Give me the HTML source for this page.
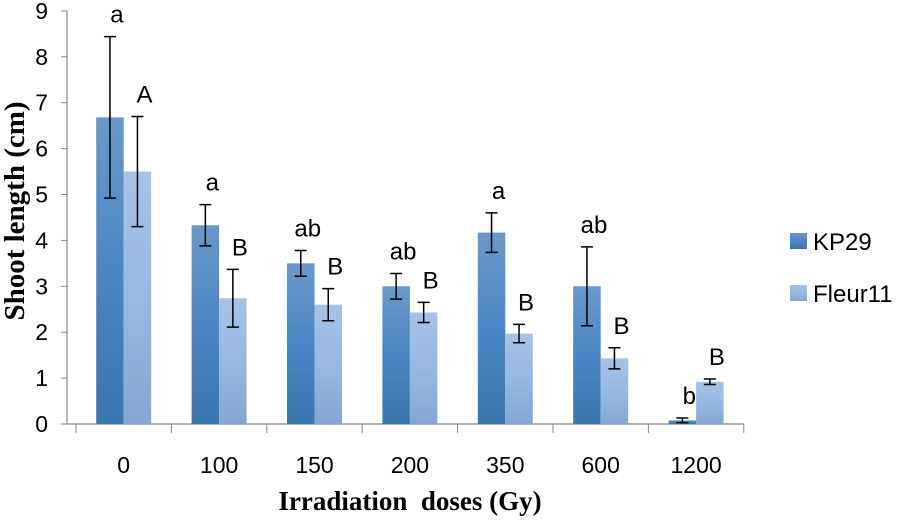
<!DOCTYPE html>
<html><head><meta charset="utf-8"><style>
body{margin:0;background:#fff;}
svg text{font-family:"Liberation Sans",sans-serif;}
</style></head><body>
<svg width="900" height="519" viewBox="0 0 900 519">
<defs>
<linearGradient id="gk" x1="0" y1="0" x2="0" y2="1"><stop offset="0" stop-color="#6a98c9"/><stop offset="0.5" stop-color="#4a87c4"/><stop offset="1" stop-color="#3a76b0"/></linearGradient>
<linearGradient id="gf" x1="0" y1="0" x2="0" y2="1"><stop offset="0" stop-color="#a6c3e8"/><stop offset="0.5" stop-color="#97b8e3"/><stop offset="1" stop-color="#85a6d2"/></linearGradient>
</defs>
<g id="plot"></g>
<rect x="790" y="233" width="17" height="16" fill="url(#gk)"/>
<text x="813" y="250" font-size="24">KP29</text>
<rect x="790" y="285" width="17" height="16" fill="url(#gf)"/>
<text x="813" y="302" font-size="24">Fleur11</text>
<text x="410" y="510" font-size="27" font-weight="bold" text-anchor="middle" style="font-family:'Liberation Serif',serif" xml:space="preserve">Irradiation  doses (Gy)</text>
<text transform="translate(24,211) rotate(-90)" font-size="29" font-weight="bold" text-anchor="middle" style="font-family:'Liberation Serif',serif">Shoot length (cm)</text>
</svg>
<script>
const categories=["0","100","150","200","350","600","1200"];
const kpValues=[6.68,4.33,3.5,3.0,4.17,3.0,0.08];
const kpErrors=[1.76,0.45,0.28,0.28,0.43,0.86,0.05];
const kpLetters=["a","a","ab","ab","a","ab","b"];
const flValues=[5.5,2.74,2.6,2.43,1.97,1.43,0.92];
const flErrors=[1.2,0.63,0.35,0.22,0.2,0.23,0.06];
const flLetters=["A","B","B","B","B","B","B"];
const yTicks=[0,1,2,3,4,5,6,7,8,9];
const NS="http://www.w3.org/2000/svg";
const g=document.getElementById('plot');
const x0=76,gw=95.4,y0=424,ypu=45.9,bw=27.5;
const Y=v=>y0-v*ypu;
function mk(t,a){const e=document.createElementNS(NS,t);for(const k in a)e.setAttribute(k,a[k]);g.appendChild(e);return e;}
let ax=mk('line',{x1:67,y1:Y(9),x2:67,y2:y0,stroke:'#888','stroke-width':1.2});


yTicks.forEach(t=>{
 let l=mk('line',{x1:61,x2:67,y1:Y(t),y2:Y(t),stroke:'#888'});
 
 
 let tx=mk('text',{x:48,y:Y(t)+8,'font-size':23,'text-anchor':'end'});tx.textContent=t;
 
 
});
let xa=mk('line',{x1:67,y1:y0,x2:x0+gw*categories.length,y2:y0,stroke:'#888','stroke-width':1.2});


for(let i=0;i<=categories.length;i++){
 let l=mk('line',{x1:x0+gw*i,x2:x0+gw*i,y1:y0,y2:y0+9,stroke:'#888'});
 
 
}
function bar(cx,v,e,letter,fill,name){
 let r=mk('rect',{x:cx,y:Y(v),width:bw,height:v*ypu,fill:fill});
 
 
 const m=cx+bw/2,t=Y(v+e),b=Y(v-e);
 let p=mk('path',{d:`M${m},${t}V${b}M${m-6},${t}H${m+6}M${m-6},${b}H${m+6}`,stroke:'#000','stroke-width':1.5,fill:'none'});
 
 
 let tx=mk('text',{x:m+7,y:t-14,'font-size':24,'text-anchor':'middle'});tx.textContent=letter;
 
 
}
categories.forEach((c,i)=>{
 const cx=x0+gw*i+gw/2;
 bar(cx-bw,kpValues[i],kpErrors[i],kpLetters[i],'url(#gk)','bar-kp29-'+c);
 bar(cx,flValues[i],flErrors[i],flLetters[i],'url(#gf)','bar-fleur11-'+c);
 let tx=mk('text',{x:cx,y:473,'font-size':23,'text-anchor':'middle'});tx.textContent=c;
 
 
});
</script>
</body></html>
